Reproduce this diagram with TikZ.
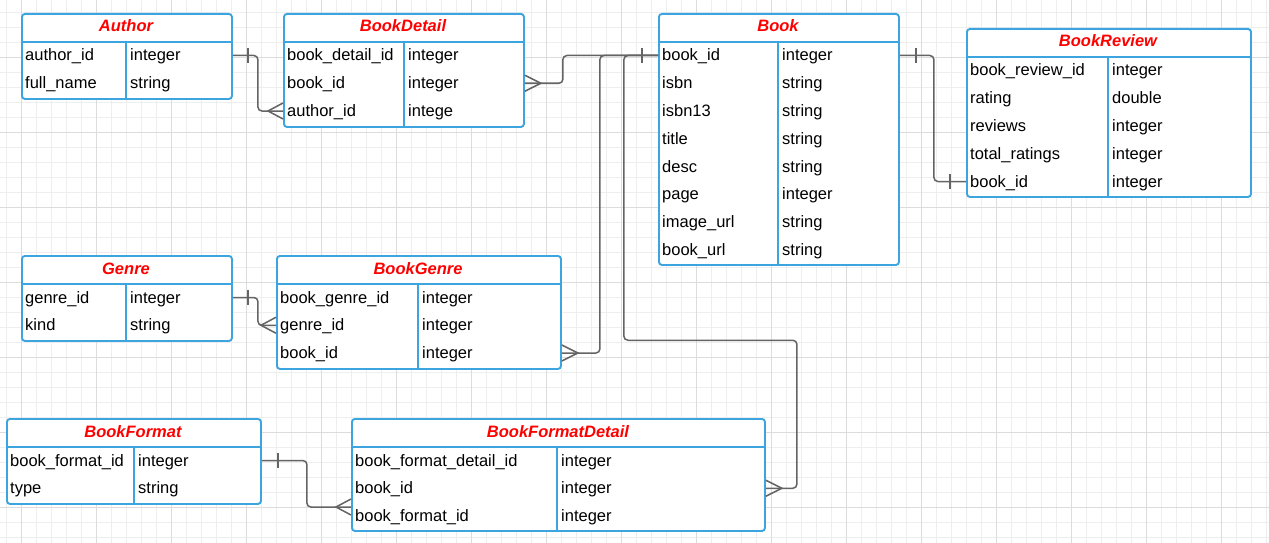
\documentclass[tikz,border=0pt]{standalone}
\usepackage{fontspec}
\setmainfont{Liberation Sans}
\definecolor{tblblue}{RGB}{60,164,222}
\definecolor{ttlred}{RGB}{255,0,0}
\definecolor{lnkgrey}{RGB}{100,100,100}
\definecolor{gridlight}{RGB}{238,238,238}
\definecolor{gridmajor}{RGB}{220,220,220}
\newcommand{\erdsize}{\fontsize{16.5}{19.8}\selectfont}
\tikzset{
  tablebox/.style={draw=tblblue, line width=1.9pt, rounded corners=3pt, fill=white, inner sep=0pt, anchor=north west},
  tablerule/.style={draw=tblblue, line width=1.9pt},
  tabletitle/.style={inner sep=0pt, text height=12pt, text depth=0pt, font=\erdsize\bfseries\itshape, text=ttlred},
  field/.style={anchor=west, inner sep=0pt, text height=12.5pt, text depth=1.5pt, font=\erdsize},
  relation/.style={draw=lnkgrey, line width=1.5pt, rounded corners=4pt},
  relend/.style={draw=lnkgrey, line width=1.5pt},
}
\begin{document}
\begin{tikzpicture}[x=1pt,y=1pt,yscale=-1]
\useasboundingbox (0,0) rectangle (1269,543);
\fill[white] (0,0) rectangle (1269,543);

% Grid
\foreach \gx in {6.5,21.5,...,1268} \draw[gridlight, line width=0.9pt] (\gx,0) -- (\gx,543);
\foreach \gy in {12.5,27.5,...,543} \draw[gridlight, line width=0.9pt] (0,\gy) -- (1269,\gy);
\foreach \gx in {21.5,96.5,...,1268} \draw[gridmajor, line width=0.9pt] (\gx,0) -- (\gx,543);
\foreach \gy in {57.5,132.5,...,543} \draw[gridmajor, line width=0.9pt] (0,\gy) -- (1269,\gy);

%Table: Author
\node[tablebox, minimum width=210pt, minimum height=85pt] (author) at (21,13) {};
\draw[tablerule] (21,42) -- (231,42) (126,42) -- (126,98);
\node[tabletitle] (authorTitle) at (126,26) {Author};
\node[field] (authorId) at (25,55.5) {author\_id};
\node[field] (authorIdType) at (130,55.5) {integer};
\node[field] (authorName) at (25,83.25) {full\_name};
\node[field] (authorNameType) at (130,83.25) {string};

%Table: BookDetail
\node[tablebox, minimum width=240pt, minimum height=113pt] (bookDetail) at (283,13) {};
\draw[tablerule] (283,42) -- (523,42) (404,42) -- (404,126);
\node[tabletitle] (bookDetailTitle) at (403,26) {BookDetail};
\node[field] (bdId) at (287,55.5) {book\_detail\_id};
\node[field] (bdIdType) at (408,55.5) {integer};
\node[field] (bdBookId) at (287,83.25) {book\_id};
\node[field] (bdBookIdType) at (408,83.25) {integer};
\node[field] (bdAuthorId) at (287,111) {author\_id};
\node[field] (bdAuthorIdType) at (408,111) {intege};

%Table: Book
\node[tablebox, minimum width=240pt, minimum height=251pt] (book) at (658,13) {};
\draw[tablerule] (658,42) -- (898,42) (778,42) -- (778,264);
\node[tabletitle] (bookTitle) at (778,26) {Book};
\node[field] (bkId) at (662,55.5) {book\_id};
\node[field] (bkIdType) at (782,55.5) {integer};
\node[field] (bkIsbn) at (662,83.25) {isbn};
\node[field] (bkIsbnType) at (782,83.25) {string};
\node[field] (bkIsbn13) at (662,111) {isbn13};
\node[field] (bkIsbn13Type) at (782,111) {string};
\node[field] (bkTitle) at (662,138.75) {title};
\node[field] (bkTitleType) at (782,138.75) {string};
\node[field] (bkDesc) at (662,166.5) {desc};
\node[field] (bkDescType) at (782,166.5) {string};
\node[field] (bkPage) at (662,194.25) {page};
\node[field] (bkPageType) at (782,194.25) {integer};
\node[field] (bkImage) at (662,222) {image\_url};
\node[field] (bkImageType) at (782,222) {string};
\node[field] (bkUrl) at (662,249.75) {book\_url};
\node[field] (bkUrlType) at (782,249.75) {string};

%Table: BookReview
\node[tablebox, minimum width=284pt, minimum height=168pt] (bookReview) at (966,28) {};
\draw[tablerule] (966,57) -- (1250,57) (1108,57) -- (1108,196);
\node[tabletitle] (bookReviewTitle) at (1108,41) {BookReview};
\node[field] (brId) at (970,70.5) {book\_review\_id};
\node[field] (brIdType) at (1112,70.5) {integer};
\node[field] (brRating) at (970,98.25) {rating};
\node[field] (brRatingType) at (1112,98.25) {double};
\node[field] (brReviews) at (970,126) {reviews};
\node[field] (brReviewsType) at (1112,126) {integer};
\node[field] (brTotal) at (970,153.75) {total\_ratings};
\node[field] (brTotalType) at (1112,153.75) {integer};
\node[field] (brBookId) at (970,181.5) {book\_id};
\node[field] (brBookIdType) at (1112,181.5) {integer};

%Table: Genre
\node[tablebox, minimum width=210pt, minimum height=85pt] (genre) at (21,255) {};
\draw[tablerule] (21,284) -- (231,284) (126,284) -- (126,340);
\node[tabletitle] (genreTitle) at (126,268) {Genre};
\node[field] (gnId) at (25,297.5) {genre\_id};
\node[field] (gnIdType) at (130,297.5) {integer};
\node[field] (gnKind) at (25,325.25) {kind};
\node[field] (gnKindType) at (130,325.25) {string};

%Table: BookGenre
\node[tablebox, minimum width=284pt, minimum height=113pt] (bookGenre) at (276,255) {};
\draw[tablerule] (276,284) -- (560,284) (418,284) -- (418,368);
\node[tabletitle] (bookGenreTitle) at (418,268) {BookGenre};
\node[field] (bgId) at (280,297.5) {book\_genre\_id};
\node[field] (bgIdType) at (422,297.5) {integer};
\node[field] (bgGenreId) at (280,325.25) {genre\_id};
\node[field] (bgGenreIdType) at (422,325.25) {integer};
\node[field] (bgBookId) at (280,353) {book\_id};
\node[field] (bgBookIdType) at (422,353) {integer};

%Table: BookFormat
\node[tablebox, minimum width=254pt, minimum height=85pt] (bookFormat) at (6,418) {};
\draw[tablerule] (6,447) -- (260,447) (134,447) -- (134,503);
\node[tabletitle] (bookFormatTitle) at (133,431) {BookFormat};
\node[field] (bfId) at (10,460.5) {book\_format\_id};
\node[field] (bfIdType) at (138,460.5) {integer};
\node[field] (bfType) at (10,488.25) {type};
\node[field] (bfTypeType) at (138,488.25) {string};

%Table: BookFormatDetail
\node[tablebox, minimum width=413pt, minimum height=112pt] (bookFormatDetail) at (351,418) {};
\draw[tablerule] (351,447) -- (764,447) (557,447) -- (557,530);
\node[tabletitle] (bookFormatDetailTitle) at (558,431) {BookFormatDetail};
\node[field] (bfdId) at (355,460.5) {book\_format\_detail\_id};
\node[field] (bfdIdType) at (561,460.5) {integer};
\node[field] (bfdBookId) at (355,488.25) {book\_id};
\node[field] (bfdBookIdType) at (561,488.25) {integer};
\node[field] (bfdFormatId) at (355,516) {book\_format\_id};
\node[field] (bfdFormatIdType) at (561,516) {integer};

% Relations
% Author -- BookDetail
\draw[relation] (author.east |- authorId) -- ++(25,0) |- (bookDetail.west |- bdAuthorId);
\draw[relend] (author.east |- authorId) ++(15,-7.5) -- ++(0,15);
\draw[relend] (bookDetail.west |- bdAuthorId) ++(0,-8) -- ++(-15,8) -- ++(15,8);
% Book -- BookDetail
\draw[relation] (bookDetail.east |- bdBookId) -- ++(38,0) |- (book.west |- bkId);
\draw[relend] (bookDetail.east |- bdBookId) ++(0,-8) -- ++(16,8) -- ++(-16,8);
\draw[relend] (book.west |- bkId) ++(-16,-7.5) -- ++(0,15);
% Book -- BookGenre
\draw[relation] (bookGenre.east |- bgBookId) -- ++(38,0) |- (book.west |- bkId);
\draw[relend] (bookGenre.east |- bgBookId) ++(0,-8) -- ++(16,8) -- ++(-16,8);
% Book -- BookFormatDetail
\draw[relation] (bookFormatDetail.east |- bfdBookId) -- ++(31,0) -- ++(0,-148) -- ++(-173,0) |- (book.west |- bkId);
\draw[relend] (bookFormatDetail.east |- bfdBookId) ++(0,-8) -- ++(16,8) -- ++(-16,8);
% Book -- BookReview
\draw[relation] (book.east |- bkId) -- ++(34,0) |- (bookReview.west |- brBookId);
\draw[relend] (book.east |- bkId) ++(16,-7.5) -- ++(0,15);
\draw[relend] (bookReview.west |- brBookId) ++(-16,-7.5) -- ++(0,15);
% Genre -- BookGenre
\draw[relation] (genre.east |- gnId) -- ++(25,0) |- (bookGenre.west |- bgGenreId);
\draw[relend] (genre.east |- gnId) ++(15,-7.5) -- ++(0,15);
\draw[relend] (bookGenre.west |- bgGenreId) ++(0,-8) -- ++(-15,8) -- ++(15,8);
% BookFormat -- BookFormatDetail
\path (bfdFormatId.west) ++(0,-9) coordinate (bfdLink);
\draw[relation] (bookFormat.east |- bfId) -- ++(45,0) |- (bookFormatDetail.west |- bfdLink);
\draw[relend] (bookFormat.east |- bfId) ++(16,-7.5) -- ++(0,15);
\draw[relend] (bookFormatDetail.west |- bfdLink) ++(0,-8) -- ++(-15,8) -- ++(15,8);

\end{tikzpicture}
\end{document}
